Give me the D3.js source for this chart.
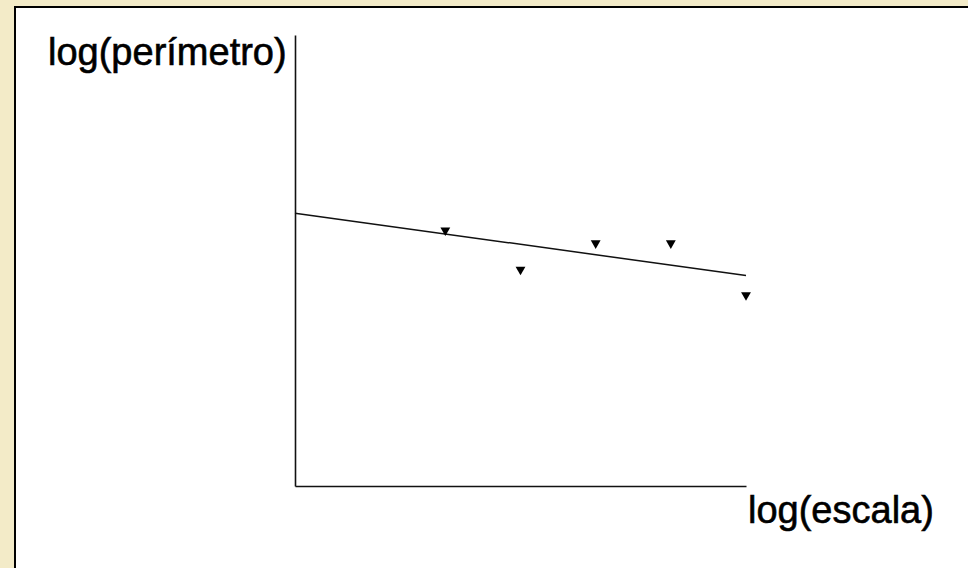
<!DOCTYPE html>
<html>
<head>
<meta charset="utf-8">
<script src="https://cdn.jsdelivr.net/npm/d3@7"></script>
<style>
  body { margin: 0; background: #f3ebc8; }
  svg { display: block; }
  .lbl { font-family: "Liberation Sans", Arial, sans-serif; font-size: 38px; fill: #000; stroke: #000; stroke-width: 0.6; }
</style>
</head>
<body>
<svg id="chart" width="968" height="568"></svg>
<script>
// measured points (log scale vs log perimeter)
const xValues = [2, 3, 4, 5, 6];
const yValues = [3.40, 2.88, 3.23, 3.23, 2.54];
// fitted line end points
const fitX = [0, 6];
const fitY = [3.63, 2.80];
const xLabel = "log(escala)";
const yLabel = "log(perímetro)";

const svg = d3.select("#chart");

// white panel, black border only shows on left/top
svg.append("rect")
  .attr("x", 15).attr("y", 7)
  .attr("width", 1000).attr("height", 1000)
  .attr("fill", "#fff")
  .attr("stroke", "#000")
  .attr("stroke-width", 2);

let xScale = d3.scaleLinear().domain([0, 6]).range([295, 746]);
let yScale = d3.scaleLinear().domain([0, 6]).range([486, 35]);

// axes without ticks, just the domain lines
let bottomAxis = d3.axisBottom(xScale).tickValues([]).tickSizeOuter(0);
let leftAxis = d3.axisLeft(yScale).tickValues([]).tickSizeOuter(0);

svg.append("g")
  .attr("transform", `translate(0, ${yScale(0)})`)
  .call(bottomAxis)
  .select(".domain").attr("stroke", "#111").attr("stroke-width", 1.6);

svg.append("g")
  .attr("transform", `translate(${xScale(0)}, 0)`)
  .call(leftAxis)
  .select(".domain").attr("stroke", "#111").attr("stroke-width", 1.6);

// regression line
let fitData = fitX.map((x, i) => [x, fitY[i]]);
let lineGen = d3.line()
  .x(d => xScale(d[0]))
  .y(d => yScale(d[1]));

svg.append("path")
  .attr("d", lineGen(fitData))
  .attr("fill", "none")
  .attr("stroke", "#111")
  .attr("stroke-width", 1.5);

// points as down triangles
let points = xValues.map((x, i) => [x, yValues[i]]);
let tri = d3.symbol().type(d3.symbolTriangle).size(42);
svg.selectAll(".pt")
  .data(points)
  .enter()
  .append("path")
  .attr("class", "pt")
  .attr("d", tri)
  .attr("transform", d => `translate(${xScale(d[0])}, ${yScale(d[1])}) rotate(180)`)
  .attr("fill", "#000");

svg.append("text")
  .attr("class", "lbl")
  .attr("x", 48).attr("y", 65)
  .text(yLabel);

svg.append("text")
  .attr("class", "lbl")
  .attr("x", 748).attr("y", 523)
  .text(xLabel);
</script>
</body>
</html>
